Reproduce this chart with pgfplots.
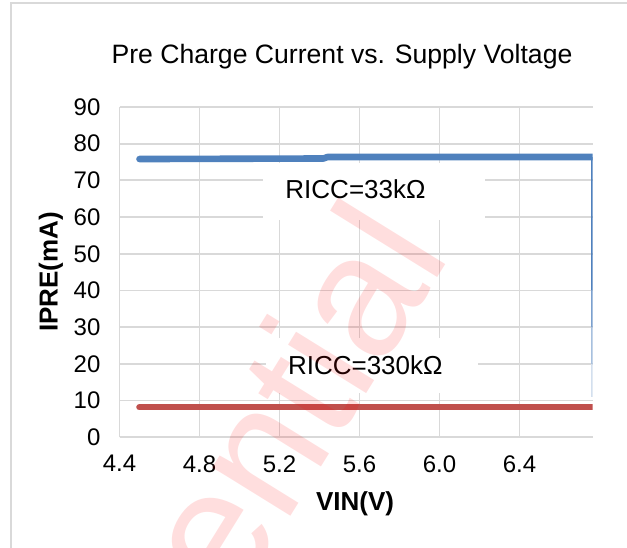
\documentclass[border=0pt]{standalone}
\usepackage{pgfplots}
\pgfplotsset{compat=1.18}
\usepackage{fontspec}
\setmainfont{Liberation Sans}
\definecolor{xlblue}{HTML}{4F81BD}
\definecolor{xlred}{HTML}{C0504D}
\definecolor{xlgrid}{HTML}{D9D9D9}
\begin{document}
\begin{tikzpicture}[x=1pt,y=1pt]
\useasboundingbox (0,0) rectangle (313.5,273.5);
\clip (0,0) rectangle (313.5,273.5);
\fill[white] (0,0) rectangle (313.5,273.5);
\draw[xlgrid, line width=1pt] (5.5,-2) -- (5.5,271.8) -- (316,271.8);
\begin{axis}[
  at={(59.75pt,54.85pt)}, anchor=south west,
  scale only axis, width=236.6pt, height=165.2pt,
  xmin=4.4, xmax=6.766, ymin=0, ymax=90,
  xtick={4.4,4.8,5.2,5.6,6.0,6.4},
  ytick={0,10,...,90},
  axis x line*=bottom, axis y line*=left,
  axis line style={xlgrid, line width=0.9pt},
  major tick length=0pt,
  grid=major,
  grid style={xlgrid, line width=0.9pt},
  /pgf/number format/assume math mode=true,
  xticklabel style={font=\fontsize{12}{14}\selectfont, yshift=-5.5pt, /pgf/number format/fixed, /pgf/number format/fixed zerofill, /pgf/number format/precision=1},
  yticklabel style={font=\fontsize{12}{14}\selectfont, xshift=-6pt},
  clip=true,
]
\fill[white] (axis cs:5.1175,74.7) rectangle (axis cs:6.2275,59.1);
\fill[white] (axis cs:5.1335,27.0) rectangle (axis cs:6.194,12.1);
\node[font=\fontsize{13}{15}\selectfont] at (axis cs:5.58,67.6) {RICC=33kΩ};
\node[font=\fontsize{13}{15}\selectfont] at (axis cs:5.629,19.7) {RICC=330kΩ};
\addplot[xlblue, line width=3.3pt, line cap=round, line join=round] coordinates {(4.5,75.8) (5.42,75.95) (5.44,76.35) (6.8,76.35)};
\addplot[xlblue, line width=0.8pt] coordinates {(6.762,76.3) (6.762,40)};
\addplot[xlblue!75, line width=0.8pt] coordinates {(6.762,40) (6.762,30)};
\addplot[xlblue!50, line width=0.8pt] coordinates {(6.762,30) (6.762,20)};
\addplot[xlblue!25, line width=0.8pt] coordinates {(6.762,20) (6.762,11)};
\addplot[xlred, line width=3.3pt, line cap=round] coordinates {(4.5,8.2) (6.8,8.2)};
\end{axis}
\node[font=\fontsize{13.3}{16}\selectfont] at (171,245) {Pre Charge Current vs. Supply Voltage};
\node[font=\bfseries\fontsize{13}{15}\selectfont] at (177.5,21.85) {VIN(V)};
\node[font=\bfseries\fontsize{13}{15}\selectfont, rotate=90] at (25.5,137.5) {IPRE(mA)};
\node[rotate=58.2, anchor=base east, inner sep=0pt, font=\fontsize{87}{87}\selectfont, text=red, text opacity=0.13] at (226.3,146.2) {Confidential};
\end{tikzpicture}
\end{document}
